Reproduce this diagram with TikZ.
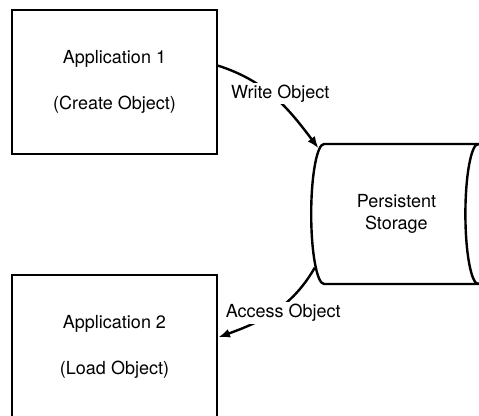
\documentclass[tikz,border=0pt]{standalone}
\usepackage{fontspec}
\setmainfont{TeX Gyre Heros}
\usetikzlibrary{arrows.meta, shapes.geometric}

\begin{document}
\begin{tikzpicture}[x=0.5pt, y=0.5pt, >={Latex[length=6pt, width=4.5pt]},
  app/.style={draw, line width=1pt, minimum width=102.5pt, align=center,
    font=\fontsize{9}{11}\selectfont},
  flowtext/.style={fill=white, inner sep=1pt, font=\fontsize{9}{11}\selectfont}]
  \path[use as bounding box, clip] (0,0) rectangle (479,416);

  \node[app, minimum height=72pt] (app1) at (114.5,334) {Application 1\\[12pt](Create Object)};
  \node[app, minimum height=71.5pt] (app2) at (114.5,69.5) {Application 2\\[12pt](Load Object)};
  \node[cylinder, draw, line width=1.2pt, minimum height=90pt, minimum width=70pt,
    aspect=0.45, font=\fontsize{9}{11}\selectfont, anchor=west] (store) at (310,202)
    {\hspace*{5pt}\begin{tabular}{@{}c@{}}Persistent\\Storage\end{tabular}};

  \draw[->, line width=1.2pt] (app1.9) to[out=-18, in=127]
    node[flowtext, pos=0.45, xshift=5pt] {Write Object} (store.138);
  \draw[->, line width=1.2pt] (store.215) to[out=240, in=20]
    node[flowtext, pos=0.52, xshift=5.5pt] {Access Object} (app2.5);
\end{tikzpicture}
\end{document}
